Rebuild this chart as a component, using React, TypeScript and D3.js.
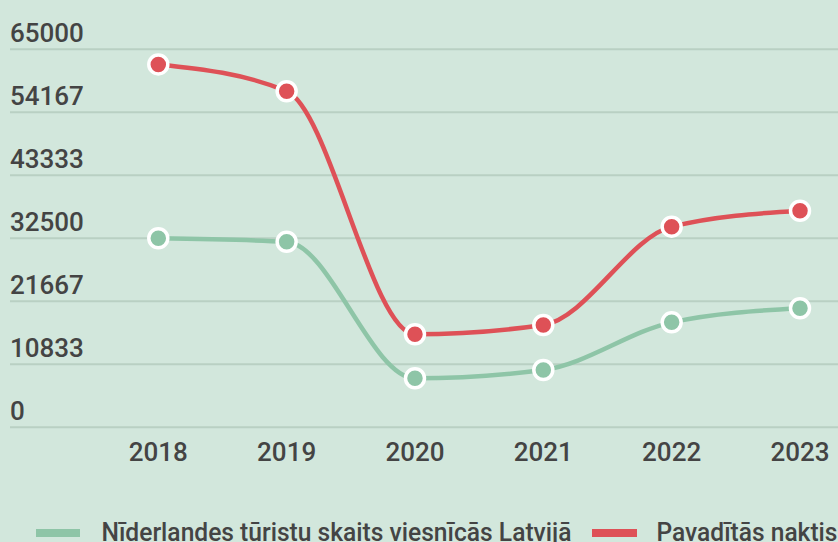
import React from 'react';
import * as d3 from 'd3';

const years = ['2018', '2019', '2020', '2021', '2022', '2023'];
const tourists = [32500, 31900, 8430, 9850, 18050, 20460];
const nights = [62400, 57800, 16000, 17600, 34500, 37250];
const yTicks = [0, 10833, 21667, 32500, 43333, 54167, 65000];
const seriesNames = ['Nīderlandes tūristu skaits viesnīcās Latvijā', 'Pavadītās naktis'];

const App = () => {
    const width = 838;
    const height = 542;
    const bg = '#d2e7dc';
    const gridColor = '#b9d0c3';
    const textColor = '#444444';
    const colors = ['#8ec5a7', '#de5157'];
    const font = 'Roboto, sans-serif';

    const xScale = d3.scalePoint<string>().domain(years).range([158.3, 800]);
    const yScale = d3.scaleLinear().domain([0, 65000]).range([427.3, 49.3]);

    const line = d3.line<number>()
        .x((d, i) => xScale(years[i]) as number)
        .y(d => yScale(d))
        .curve(d3.curveMonotoneX);

    const series = [tourists, nights];

    return (
        <svg
            width={width}
            height={height}
            style={{ position: 'absolute', left: 0, top: 0, background: bg }}
        >
            <rect width={width} height={height} fill={bg} />
            {yTicks.map(t => (
                <g key={t}>
                    <line x1={10} x2={width} y1={yScale(t)} y2={yScale(t)} stroke={gridColor} strokeWidth={2} />
                    <text x={10} y={yScale(t) - 7} fontFamily={font} fontSize={26} fontWeight={500} fill={textColor}>{t}</text>
                </g>
            ))}
            {years.map(y => (
                <text key={y} x={xScale(y)} y={461} textAnchor="middle" fontFamily={font} fontSize={26} fontWeight={500} fill={textColor}>{y}</text>
            ))}
            {series.map((s, si) => (
                <g key={si}>
                    <path d={line(s) || ''} fill="none" stroke={colors[si]} strokeWidth={4.5} />
                    {s.map((v, i) => (
                        <circle key={i} cx={xScale(years[i])} cy={yScale(v)} r={9.5} fill={colors[si]} stroke="#ffffff" strokeWidth={3.5} />
                    ))}
                </g>
            ))}
            <g>
                <rect x={36} y={529} width={44} height={8} fill={colors[0]} />
                <text x={101.5} y={541} fontFamily={font} fontSize={26} fontWeight={500} fill={textColor}
                    textLength={470} lengthAdjust="spacingAndGlyphs">{seriesNames[0]}</text>
                <rect x={592} y={529} width={45} height={8} fill={colors[1]} />
                <text x={656.5} y={541} fontFamily={font} fontSize={26} fontWeight={500} fill={textColor}
                    textLength={181} lengthAdjust="spacingAndGlyphs">{seriesNames[1]}</text>
            </g>
        </svg>
    );
};

export default App;
